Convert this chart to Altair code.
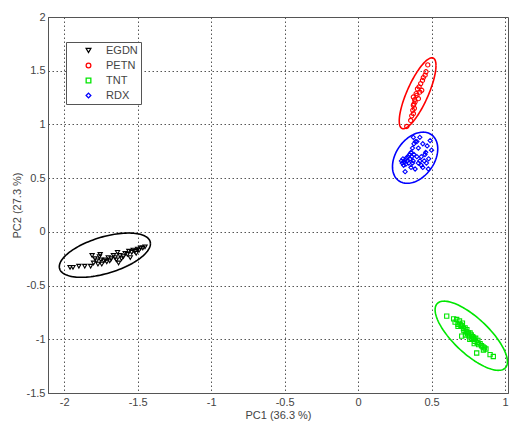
import altair as alt
import numpy as np
import pandas as pd

groups = ["EGDN", "PETN", "TNT", "RDX"]
colors = ["#000000", "#ff0000", "#00e600", "#0000ff"]
shapes = ["triangle-down", "circle", "square", "diamond"]

egdn_x = [-1.96, -1.94, -1.90, -1.86, -1.82, -1.81, -1.80, -1.79, -1.78, -1.77, -1.76, -1.755, -1.75, -1.744,
          -1.73, -1.72, -1.71, -1.70, -1.69, -1.68, -1.665, -1.653, -1.645, -1.637, -1.63, -1.62, -1.61,
          -1.597, -1.585, -1.57, -1.56, -1.55, -1.54, -1.53, -1.52, -1.51, -1.50, -1.49, -1.48, -1.465, -1.45]
egdn_y = [-0.33, -0.33, -0.32, -0.32, -0.32, -0.22, -0.29, -0.25, -0.27, -0.30, -0.23, -0.21, -0.26, -0.30,
          -0.27, -0.26, -0.28, -0.24, -0.27, -0.25, -0.22, -0.24, -0.26, -0.19, -0.29, -0.22, -0.25,
          -0.23, -0.20, -0.21, -0.18, -0.24, -0.19, -0.17, -0.18, -0.20, -0.16, -0.17, -0.15, -0.15, -0.14]

petn_x = [0.474, 0.462, 0.456, 0.444, 0.438, 0.426, 0.433, 0.415, 0.404, 0.42, 0.395, 0.41, 0.388, 0.40,
          0.376, 0.385, 0.38, 0.376, 0.372, 0.383, 0.376, 0.365, 0.358, 0.331]
petn_y = [1.554, 1.49, 1.458, 1.436, 1.41, 1.38, 1.318, 1.35, 1.33, 1.30, 1.287, 1.24, 1.21, 1.27,
          1.255, 1.23, 1.19, 1.178, 1.131, 1.15, 1.10, 1.08, 1.037, 0.981]

tnt_x = [0.603, 0.65, 0.66, 0.671, 0.68, 0.69, 0.694, 0.70, 0.705, 0.71, 0.717, 0.72, 0.728, 0.735, 0.74,
         0.745, 0.75, 0.755, 0.762, 0.77, 0.775, 0.78, 0.785, 0.79, 0.795, 0.80, 0.81, 0.815, 0.82, 0.83,
         0.84, 0.85, 0.86, 0.87, 0.807, 0.853, 0.898, 0.92, 0.705, 0.68, 0.73, 0.76, 0.79]
tnt_y = [-0.785, -0.81, -0.84, -0.816, -0.86, -0.83, -0.863, -0.88, -0.97, -0.85, -0.90, -0.92, -0.894,
         -0.93, -0.91, -0.95, -0.94, -0.97, -0.941, -0.96, -0.99, -0.975, -0.988, -1.00, -1.02, -0.99,
         -1.03, -1.01, -1.05, -1.04, -1.06, -1.07, -1.08, -1.09, -1.128, -1.10, -1.143, -1.16, -0.87,
         -0.88, -0.96, -1.00, -1.04]

rdx_x = [0.376, 0.40, 0.42, 0.44, 0.49, 0.50, 0.47, 0.44, 0.32, 0.388, 0.478, 0.43, 0.45, 0.46, 0.48,
         0.295, 0.30, 0.305, 0.31, 0.315, 0.32, 0.325, 0.33, 0.335, 0.34, 0.345, 0.35, 0.355, 0.36, 0.365,
         0.37, 0.375, 0.38, 0.39, 0.36, 0.37, 0.38, 0.40, 0.41, 0.42, 0.43, 0.455, 0.465, 0.41]
rdx_y = [0.88, 0.84, 0.88, 0.82, 0.85, 0.76, 0.80, 0.60, 0.56, 0.585, 0.586, 0.70, 0.66, 0.74, 0.68,
         0.66, 0.64, 0.68, 0.62, 0.65, 0.67, 0.63, 0.69, 0.66, 0.70, 0.64, 0.72, 0.68, 0.74, 0.70,
         0.78, 0.66, 0.82, 0.84, 0.60, 0.64, 0.72, 0.70, 0.64, 0.66, 0.62, 0.72, 0.64, 0.78]

# confidence ellipses: centre, half-extent in x and y, correlation
ell_cx = [-1.723, 0.405, 0.770, 0.388]
ell_cy = [-0.217, 1.29, -0.967, 0.69]
ell_sx = [0.310, 0.125, 0.246, 0.154]
ell_sy = [0.206, 0.330, 0.322, 0.238]
ell_rho = [0.52, 0.78, -0.75, 0.35]

pts = pd.concat([
    pd.DataFrame({"x": egdn_x, "y": egdn_y, "g": "EGDN"}),
    pd.DataFrame({"x": petn_x, "y": petn_y, "g": "PETN"}),
    pd.DataFrame({"x": tnt_x, "y": tnt_y, "g": "TNT"}),
    pd.DataFrame({"x": rdx_x, "y": rdx_y, "g": "RDX"}),
])

lab = "replace(toString(datum.value), '−', '-')"
xs = alt.Scale(domain=[-2.11, 1.02], nice=False, zero=False)
ys = alt.Scale(domain=[-1.5, 2.0], nice=False, zero=False)
xax = alt.Axis(values=[-2, -1.5, -1, -0.5, 0, 0.5, 1], title="PC1 (36.3 %)", labelExpr=lab)
yax = alt.Axis(values=[-1.5, -1, -0.5, 0, 0.5, 1, 1.5, 2], title="PC2 (27.3 %)", labelExpr=lab)

t = np.linspace(0, 2 * np.pi, 121)
ell_layers = []
for i, g in enumerate(groups):
    r = ell_rho[i]
    ex = ell_cx[i] + ell_sx[i] * np.cos(t)
    ey = ell_cy[i] + ell_sy[i] * (r * np.cos(t) + np.sqrt(1 - r * r) * np.sin(t))
    df = pd.DataFrame({"x": ex, "y": ey, "k": np.arange(len(t))})
    ell_layers.append(
        alt.Chart(df).mark_line(strokeWidth=1.6, color=colors[i]).encode(
            x=alt.X("x:Q", scale=xs, axis=xax),
            y=alt.Y("y:Q", scale=ys, axis=yax),
            order="k:Q",
        )
    )

points = alt.Chart(pts).mark_point(filled=False, size=18, strokeWidth=1.1, opacity=1).encode(
    x=alt.X("x:Q", scale=xs, axis=xax),
    y=alt.Y("y:Q", scale=ys, axis=yax),
    color=alt.Color("g:N", scale=alt.Scale(domain=groups, range=colors),
                    legend=alt.Legend(title=None, orient="none", legendX=18, legendY=25)),
    shape=alt.Shape("g:N", scale=alt.Scale(domain=groups, range=shapes),
                    legend=alt.Legend(title=None, orient="none", legendX=18, legendY=25)),
)

chart = alt.layer(*ell_layers, points).properties(
    width=460, height=376,
    autosize=alt.AutoSizeParams(type="none"),
    padding={"left": 48, "top": 17, "right": 1, "bottom": 30},
    background="white",
).configure_view(
    stroke="#555555", strokeWidth=1
).configure_axis(
    grid=True, gridColor="#555555", gridDash=[1.5, 2.5], gridWidth=1, gridOpacity=1,
    domain=True, domainColor="#555555", ticks=False,
    labelFont="Liberation Sans", labelFontSize=11, labelColor="#444444", labelPadding=3,
    titleFont="Liberation Sans", titleFontSize=11, titleColor="#444444", titleFontWeight="normal",
).configure_axisX(titlePadding=2).configure_axisY(titlePadding=4).configure_legend(
    strokeColor="#555555", fillColor="white", padding=3, symbolOffset=14, labelOffset=12,
    labelFont="Liberation Sans", labelFontSize=11, labelColor="#444444", rowPadding=3,
    symbolSize=22, symbolStrokeWidth=1.3, cornerRadius=0,
)

chart.save("out.html", embed_options={"renderer": "svg", "actions": False})
